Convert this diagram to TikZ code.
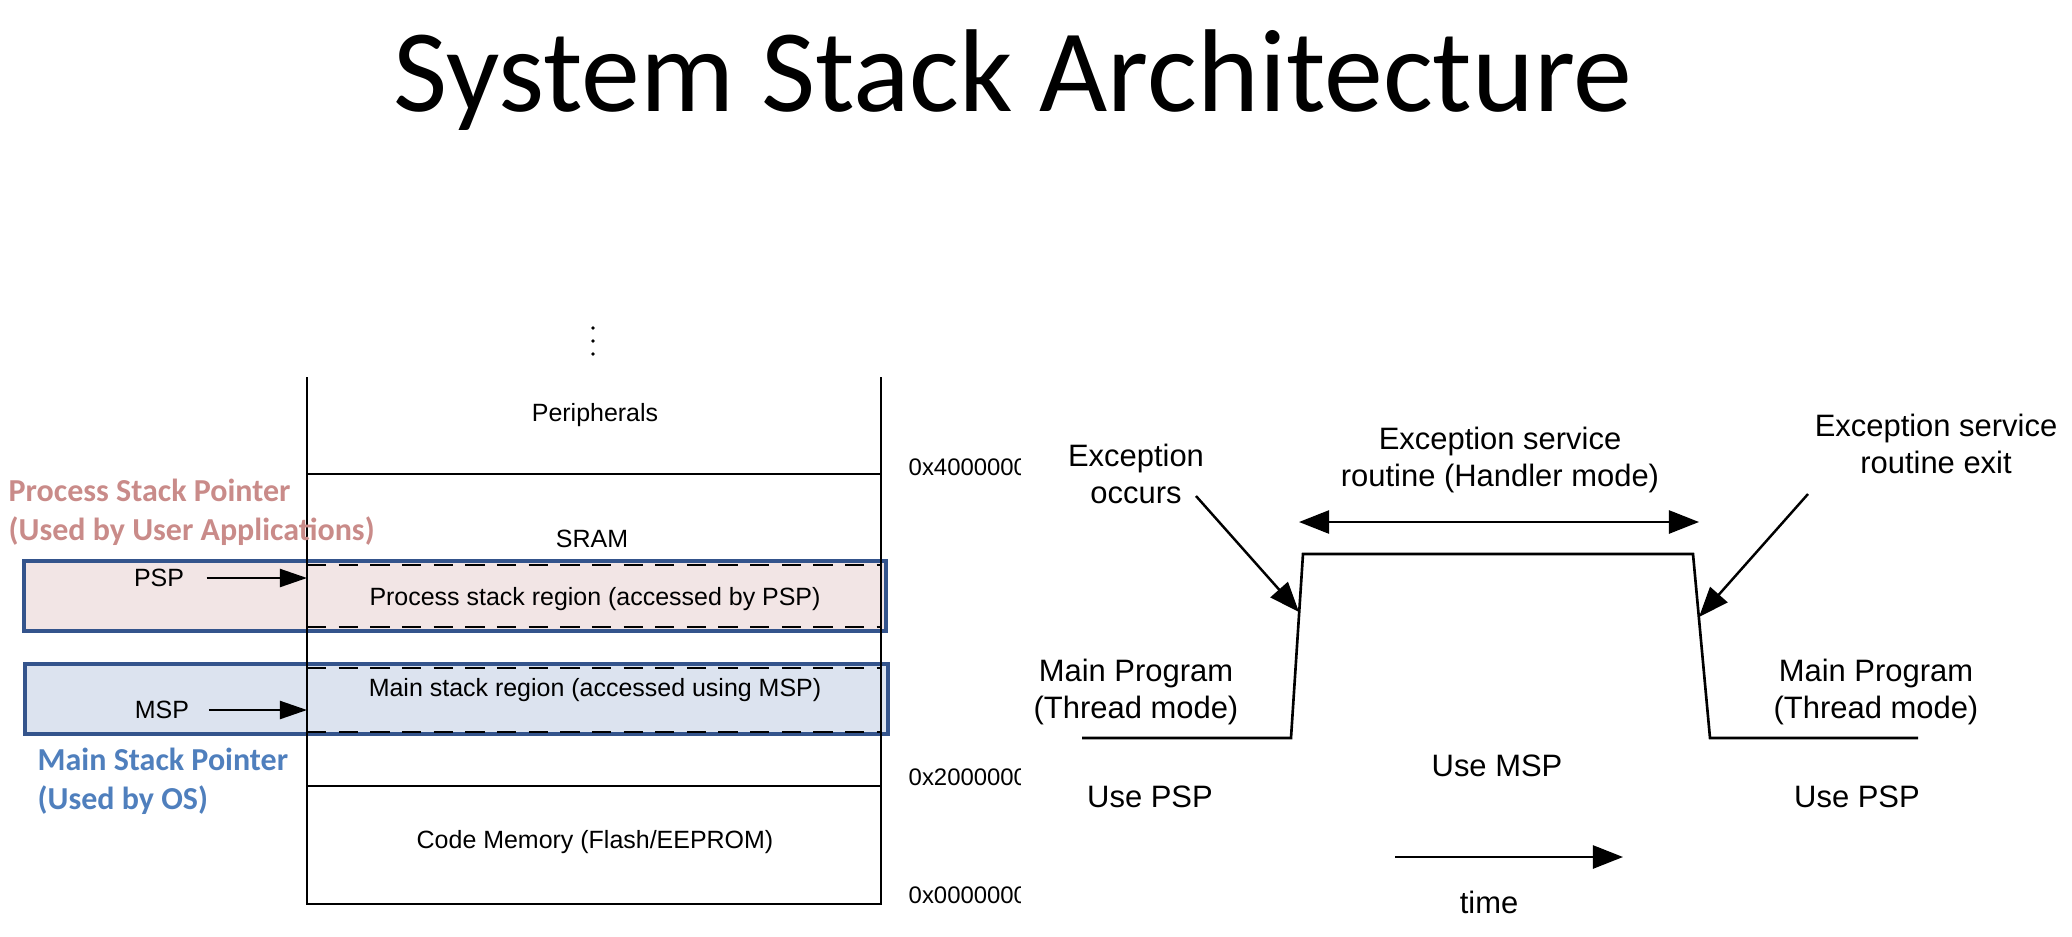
\documentclass[tikz,border=0pt]{standalone}
\usepackage{fontspec}
\setmainfont{Liberation Sans}
\newfontfamily\calibri{Carlito}
\usetikzlibrary{arrows.meta}
\definecolor{pspred}{RGB}{201,139,137}
\definecolor{mspblue}{RGB}{79,127,189}
\definecolor{pspfill}{RGB}{242,229,229}
\definecolor{mspfill}{RGB}{220,227,239}
\definecolor{boxblue}{RGB}{52,84,140}
\tikzset{
    memtext/.style = {inner sep=0pt, font=\fontsize{7.1}{8.5}\selectfont},
    addrtext/.style = {inner sep=0pt, anchor=west, font=\fontsize{6.8}{8}\selectfont},
    wavetext/.style = {inner sep=0pt, align=center, font=\fontsize{8.8}{10.6}\selectfont},
    ptrtitle/.style = {inner sep=0pt, anchor=west, align=left, font=\calibri\bfseries\fontsize{9.1}{11}\selectfont},
    memline/.style = {line width=0.7pt},
    stackedge/.style = {line width=0.65pt, dash pattern=on 5.5pt off 3.5pt},
    stackbox/.style = {draw=boxblue, line width=0.9pt},
    ptrarrow/.style = {line width=0.6pt, -{Triangle[length=0.27cm,width=0.18cm]}},
    wavearrow/.style = {line width=0.7pt, -{Triangle[length=0.3cm,width=0.23cm]}},
    bothtips/.style = {line width=0.7pt, {Triangle[length=0.3cm,width=0.23cm]}-{Triangle[length=0.3cm,width=0.23cm]}},
}

\begin{document}
\begin{tikzpicture}[x=0.01cm, y=-0.01cm]
    \useasboundingbox (0,0) rectangle (2072,936);
    \node[inner sep=0pt, anchor=base, font=\calibri\fontsize{33.5}{40}\selectfont] (title) at (1013,111) {System Stack Architecture};

    \coordinate (memtl) at (307,377);
    \coordinate (memtr) at (881,377);
    \coordinate (membl) at (307,904);
    \coordinate (membr) at (881,904);

    \filldraw[
        fill = pspfill,
        stackbox
    ]
    (24,561) rectangle (886,631);
    \filldraw[
        fill = mspfill,
        stackbox
    ]
    (25,664) rectangle (888,734);

    \draw[memline] (memtl) -- (membl) -- (membr) -- (memtr);
    \draw[memline] (307,474) -- (881,474);
    \draw[memline] (307,786) -- (881,786);
    \draw[stackedge] (307,565) -- (881,565);
    \draw[stackedge] (307,627) -- (881,627);
    \draw[stackedge] (307,668) -- (881,668);
    \draw[stackedge] (307,732) -- (881,732);
    \foreach \y in {328,341,354}
        \fill (593,\y) circle (0.55pt);

    \node[memtext] (periph) at (595,415) {Peripherals};
    \node[memtext] (sram) at (592,539) {SRAM};
    \node[memtext] (procreg) at (595,599) {Process stack region (accessed by PSP)};
    \node[memtext] (mainreg) at (595,690) {Main stack region (accessed using MSP)};
    \node[memtext] (codemem) at (595,842) {Code Memory (Flash/EEPROM)};

    \node[memtext] (psp) at (159,578) {PSP};
    \node[memtext] (msp) at (162,710) {MSP};
    \draw[ptrarrow] ([xshift=0.22cm]psp.east) -- (psp.east -| memtl);
    \draw[ptrarrow] ([xshift=0.19cm]msp.east) -- (msp.east -| memtl);

    \begin{scope}
        \clip (900,440) rectangle (1020,920);
        \node[addrtext] (addr4) at (908,467) {0x40000000};
        \node[addrtext] (addr2) at (908,777) {0x20000000};
        \node[addrtext] (addr0) at (908,895) {0x00000000};
    \end{scope}

    \node[ptrtitle, text=pspred] (psptitle) at (8,512) {Process Stack Pointer\\(Used by User Applications)};
    \node[ptrtitle, text=mspblue] (msptitle) at (37,781) {Main Stack Pointer\\(Used by OS)};

    \coordinate (w0) at (1082,738);
    \coordinate (w1) at (1291,738);
    \coordinate (w2) at (1303,554);
    \coordinate (w3) at (1693,554);
    \coordinate (w4) at (1710,738);
    \coordinate (w5) at (1918,738);
    \draw[line width=0.75pt] (w0) -- (w1) -- (w2) -- (w3) -- (w4) -- (w5);

    \coordinate (hl) at (1299,522);
    \coordinate (hr) at (1699,522);
    \draw[bothtips] (hl) -- (hr);

    \coordinate (occtail) at (1196,496);
    \coordinate (occtip) at (1299,612);
    \coordinate (exittail) at (1808,494);
    \coordinate (exittip) at (1699,617);
    \draw[wavearrow] (occtail) -- (occtip);
    \draw[wavearrow] (exittail) -- (exittip);

    \node[wavetext] (esr) at (1500,460) {Exception service\\routine (Handler mode)};
    \node[wavetext] (occurs) at (1136,474) {Exception\\occurs};
    \node[wavetext] (esrexit) at (1936,444) {Exception service\\routine exit};
    \node[wavetext] (mainl) at (1136,692) {Main Program\\(Thread mode)};
    \node[wavetext] (mainr) at (1876,692) {Main Program\\(Thread mode)};
    \node[wavetext] (pspl) at (1150,797) {Use PSP};
    \node[wavetext] (mspmid) at (1497,766) {Use MSP};
    \node[wavetext] (pspr) at (1857,797) {Use PSP};

    \coordinate (t0) at (1395,857);
    \coordinate (t1) at (1623,857);
    \draw[wavearrow] (t0) -- (t1);
    \node[wavetext] (time) at (1489,902) {time};
\end{tikzpicture}
\end{document}
